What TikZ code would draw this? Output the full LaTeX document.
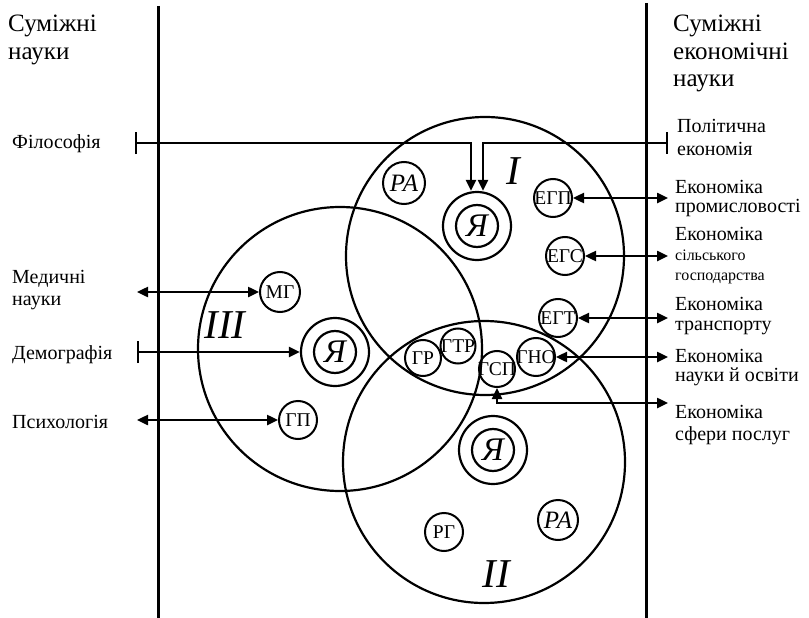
\documentclass[tikz,border=0pt]{standalone}
\usepackage{fontspec}
\setmainfont{Liberation Serif}
\usetikzlibrary{arrows.meta}
\begin{document}
\begin{tikzpicture}[x=1pt,y=-1pt,
  >={Triangle[length=11pt,width=10pt]},
  big/.style={draw,line width=2.2pt},
  vline/.style={line width=3pt},
  sc/.style={circle,draw,line width=2pt,minimum size=38pt,inner sep=-6pt,font=\fontsize{19.5}{19.5}\selectfont},
  yaout/.style={circle,draw,line width=2.2pt,minimum size=68pt,inner sep=0pt},
  yain/.style={circle,draw,line width=2.2pt,minimum size=42pt,inner sep=-4pt,font=\itshape\fontsize{33}{33}\selectfont},
  pa/.style={circle,draw,line width=2pt,minimum size=42pt,inner sep=-4pt,font=\itshape\fontsize{25}{25}\selectfont},
  roman/.style={inner sep=0pt,font=\itshape\fontsize{41}{41}\selectfont},
  lbl/.style={anchor=base west,inner sep=0pt,font=\fontsize{20}{20}\selectfont},
  head/.style={anchor=base west,inner sep=0pt,font=\fontsize{25}{28}\selectfont},
  con/.style={line width=2.4pt},
  barto/.style={arrows={Bar[width=22pt]-Triangle[length=11pt,width=10pt]}}
]
\useasboundingbox (0,0) rectangle (809,618);

% vertical border lines
\draw[vline] (158,6) -- (158,618);
\draw[vline] (646,3) -- (646,618);

% big circles
\draw[big] (485,256) circle[radius=139];
\draw[big] (484,462) circle[radius=141];
\draw[big] (340,349) circle[radius=142];

% roman numerals
\node[roman] (r1) at (513,171) {I};
\node[roman] (r2) at (496,574) {II};
\node[roman] (r3) at (225,325) {III};

% circle I
\node[yaout] (ya1) at (477,226) {};
\node[yain] (ya1i) at (ya1) {Я};
\node[pa] (pa1) at (404,183) {РА};
\node[sc] (egp) at (553,198) {ЕГП};
\node[sc] (egs) at (565,256) {ЕГС};
\node[sc] (egt) at (558,318) {ЕГТ};

% lens
\node[sc,minimum size=36pt] (gr) at (423,358) {ГР};
\node[sc,minimum size=35pt] (gtr) at (458,346) {ГТР};
\node[sc,minimum size=36pt] (gsp) at (497,369) {ГСП};
\node[sc] (gno) at (536,357) {ГНО};

% circle II
\node[yaout] (ya2) at (493,450) {};
\node[yain] (ya2i) at (ya2) {Я};
\node[sc] (rg) at (444,532) {РГ};
\node[pa,minimum size=40pt] (pa2) at (558,520) {РА};

% circle III
\node[sc,minimum size=40pt] (mg) at (280,292) {МГ};
\node[yaout] (ya3) at (335,352) {};
\node[yain] (ya3i) at (ya3) {Я};
\node[sc] (gp) at (298,420) {ГП};

% left headings and labels
\node[head] (hl) at (8,32) {\vtop{\baselineskip=28pt\hbox{Суміжні}\hbox{науки}}};
\node[lbl] (phil) at (12,148) {Філософія};
\node[lbl] (med) at (12,283) {\vtop{\baselineskip=22pt\hbox{Медичні}\hbox{науки}}};
\node[lbl] (dem) at (12,359) {Демографія};
\node[lbl] (psy) at (12,428) {Психологія};

% right headings and labels
\node[head] (hr) at (673,32) {\vtop{\baselineskip=27.5pt\hbox{Суміжні}\hbox{економічні}\hbox{науки}}};
\node[lbl] (pol) at (677,132) {\vtop{\baselineskip=23pt\hbox{Політична}\hbox{економія}}};
\node[lbl] (ep) at (675,193) {\vtop{\baselineskip=19pt\hbox{Економіка}\hbox{промисловості}}};
\node[lbl] (es) at (675,240) {\vtop{\baselineskip=20pt\hbox{Економіка}\hbox{\fontsize{16}{16}\selectfont сільського}\hbox{\fontsize{16}{16}\selectfont господарства}}};
\node[lbl] (et) at (675,310) {\vtop{\baselineskip=20pt\hbox{Економіка}\hbox{транспорту}}};
\node[lbl] (en) at (675,362) {\vtop{\baselineskip=19pt\hbox{Економіка}\hbox{науки й освіти}}};
\node[lbl] (esp) at (675,418) {\vtop{\baselineskip=22pt\hbox{Економіка}\hbox{сфери послуг}}};

% connector end points
\coordinate (fb) at (135,143);
\coordinate (pb) at (668,143);
\coordinate (e1) at (668,198);
\coordinate (e2) at (668,256);
\coordinate (e3) at (668,318);
\coordinate (e4) at (668,357);
\coordinate (e5) at (668,403);
\coordinate (m1) at (137,292);
\coordinate (d1) at (137,352);
\coordinate (p1) at (137,420);

% connectors
\draw[con,barto] (fb) -| ([xshift=-6pt]ya1.north);
\draw[con,barto] (pb) -| ([xshift=6pt]ya1.north);
\draw[con,<->] (egp) -- (e1);
\draw[con,<->] (egs) -- (e2);
\draw[con,<->] (egt) -- (e3);
\draw[con,<->] (gno) -- (e4);
\draw[con,<->] (e5) -| (gsp);
\draw[con,<->] (m1) -- (mg);
\draw[con,barto] (d1) -- (ya3);
\draw[con,<->] (p1) -- (gp);
\end{tikzpicture}
\end{document}
